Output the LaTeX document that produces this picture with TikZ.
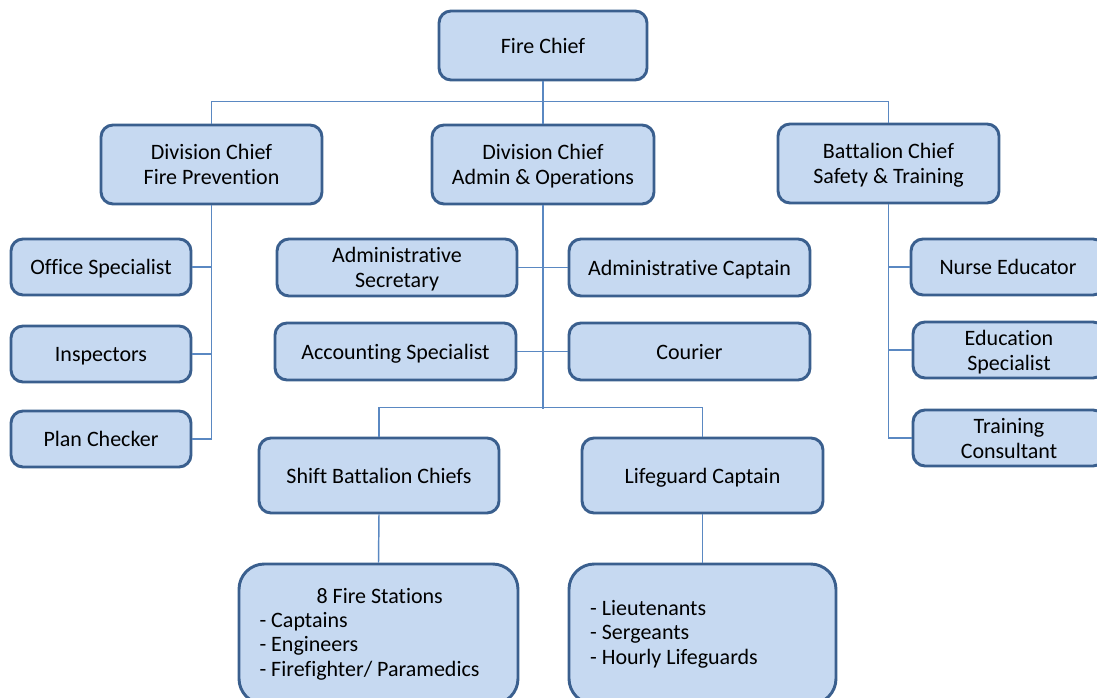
\documentclass[tikz,border=0pt]{standalone}
\usepackage{fontspec}
\setmainfont[RawFeature={-liga;-dlig;-calt}]{Carlito}
\definecolor{boxfill}{HTML}{C6D9F1}
\definecolor{boxdraw}{HTML}{3A5F8E}
\definecolor{wire}{HTML}{5A88C2}
\newcommand\tx[1]{\raisebox{-6.5pt}[0pt][0pt]{\begin{tabular}{@{}c@{}}#1\end{tabular}}}
\newcommand\tlist[2]{\raisebox{-5pt}[0pt][0pt]{\begin{tabular}{@{}l@{}}#1\end{tabular}}\hspace*{#2}}
\tikzset{
  box/.style={draw=boxdraw, fill=boxfill, line width=2.2pt, rounded corners=9pt,
    align=center, inner sep=0pt, font=\fontsize{16.5}{18.7}\selectfont},
  bigbox/.style={box, rounded corners=19pt, font=\fontsize{16.5}{18.3}\selectfont},
  wirestyle/.style={draw=wire, line width=1.1pt},
  sz/.style 2 args={minimum width=#1*0.75pt, minimum height=#2*0.75pt}
}
\begin{document}
\begin{tikzpicture}[x=0.75pt,y=-0.75pt]
\useasboundingbox (0,0) rectangle (1097,698);
\clip (0,0) rectangle (1097,698);
% top
\node[box, sz={208}{69}] (chief) at (543,45.5) {\tx{Fire Chief}};
\node[box, sz={221}{79}] (dfp) at (211.5,164.5) {\tx{Division Chief\\Fire Prevention}};
\node[box, sz={222}{79}] (dao) at (543,164.5) {\tx{Division Chief\\Admin \& Operations}};
\node[box, sz={221}{79}] (bst) at (888.5,163.5) {\tx{Battalion Chief\\Safety \& Training}};
% left column
\node[box, sz={180}{56}] (office) at (101,267) {\tx{Office Specialist}};
\node[box, sz={180}{56}] (insp) at (101,354) {\tx{Inspectors}};
\node[box, sz={180}{56}] (plan) at (101,439) {\tx{Plan Checker}};
% middle
\node[box, sz={240}{57}] (asec) at (397,267.5) {\tx{Administrative\\Secretary}};
\node[box, sz={241}{57}] (acap) at (689.5,267.5) {\tx{Administrative Captain}};
\node[box, sz={241}{57}] (acct) at (395.5,351.5) {\tx{Accounting Specialist}};
\node[box, sz={241}{57}] (courier) at (689.5,351.5) {\tx{Courier}};
\node[box, sz={240}{75}] (shift) at (379,475.5) {\tx{Shift Battalion Chiefs}};
\node[box, sz={241}{75}] (life) at (702.5,475.5) {\tx{Lifeguard Captain}};
\node[bigbox, sz={279}{140}] (stations) at (378.5,634)
  {\tlist{\hspace*{42.75pt}8 Fire Stations\\- Captains\\- Engineers\\- Firefighter/ Paramedics}{13.5pt}};
\node[bigbox, sz={267}{140}] (lfg) at (702.5,634)
  {\tlist{- Lieutenants\\- Sergeants\\- Hourly Lifeguards}{42.75pt}};
% right column
\node[box, sz={194}{56}] (nurse) at (1008,267) {\tx{Nurse Educator}};
\node[box, sz={192}{56}] (edu) at (1009,350) {\tx{Education\\Specialist}};
\node[box, sz={192}{56}] (train) at (1009,438) {\tx{Training\\Consultant}};
\coordinate (mbus) at (543,409);
% connectors
\path[wirestyle] (chief.south) -- (dao.north);
\path[wirestyle] (dfp.north) -- ++(0,-22) -| (bst.north);
\path[wirestyle] (dfp.south) |- (plan.east);
\path[wirestyle] (office.east) -- (office.east -| dfp.south);
\path[wirestyle] (insp.east) -- (insp.east -| dfp.south);
\path[wirestyle] (dao.south) -- (mbus);
\path[wirestyle] (asec.east) -- (acap.west);
\path[wirestyle] (acct.east) -- (courier.west);
\path[wirestyle] (shift.north) -- ++(0,-29) -| (life.north);
\path[wirestyle] (shift.south) -- (stations.north);
\path[wirestyle] (life.south) -- (lfg.north);
\path[wirestyle] (bst.south) |- (train.west);
\path[wirestyle] (nurse.west) -- (nurse.west -| bst.south);
\path[wirestyle] (edu.west) -- (edu.west -| bst.south);
\end{tikzpicture}
\end{document}
